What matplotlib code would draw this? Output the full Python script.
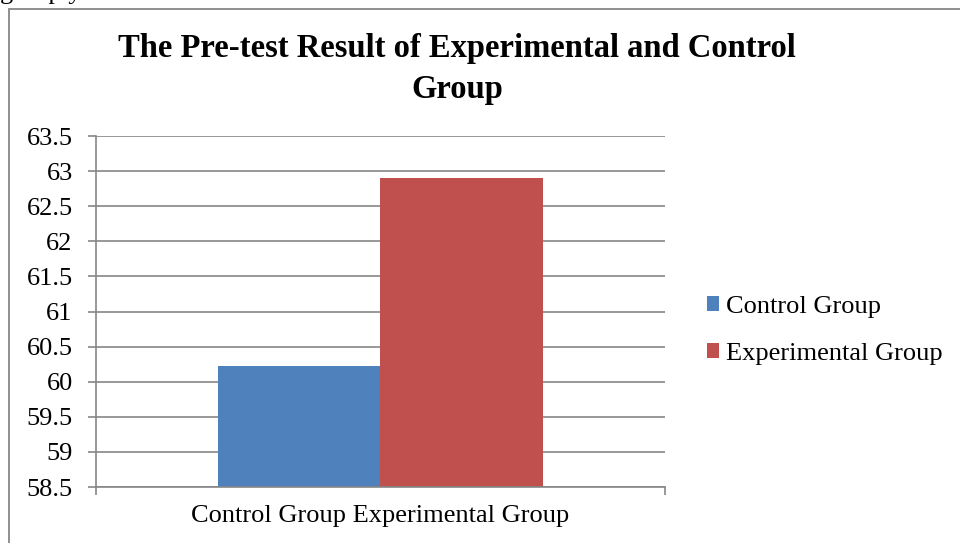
import numpy as np
import matplotlib.pyplot as plt
from matplotlib.patches import Rectangle

plt.rcParams['font.family'] = ['Liberation Serif', 'DejaVu Serif']

categories = ['Control Group Experimental Group']
series = ['Control Group', 'Experimental Group']
values = [60.23, 62.9]
colors = ['#4F81BD', '#C0504D']
y_ticks = np.arange(58.5, 63.51, 0.5)

W, H = 960, 543
fig = plt.figure(figsize=(W / 100, H / 100), dpi=100)
ax = fig.add_axes([96 / W, 1 - 487 / H, (665 - 96) / W, (487 - 136) / H])

grid_col = '#868686'
bar_w = 0.285
x = np.arange(len(categories))
for i, (name, v) in enumerate(zip(series, values)):
    off = (i - (len(series) - 1) / 2) * bar_w
    ax.bar(x + off, v - y_ticks[0], bar_w, bottom=y_ticks[0], color=colors[i], label=name, zorder=3)

ax.set_xlim(-0.5, len(categories) - 0.5)
ax.set_ylim(y_ticks[0], y_ticks[-1])
ax.set_yticks(y_ticks)
ax.set_yticklabels([f'{t:g}' for t in y_ticks])
ax.yaxis.grid(True, color=grid_col, linewidth=1.2, zorder=0)

ax.set_xticks(x)
ax.set_xticklabels(categories)
ax.set_xticks(np.arange(len(categories) + 1) - 0.5, minor=True)
ax.tick_params(axis='x', which='major', length=0, pad=13, labelsize=19)
ax.tick_params(axis='x', which='minor', length=5.8, width=1.2, color=grid_col)
ax.tick_params(axis='y', length=5.8, width=1.2, color=grid_col, pad=11, labelsize=19)

for s in ['top', 'right']:
    ax.spines[s].set_visible(False)
for s in ['left', 'bottom']:
    ax.spines[s].set_color(grid_col)
    ax.spines[s].set_linewidth(1.2)
    ax.spines[s].set_zorder(4)

fig.text(457 / W, 1 - 69 / H, 'The Pre-test Result of Experimental and Control\nGroup',
         ha='center', va='center', fontsize=23.5, fontweight='bold', linespacing=1.4)

ax.legend(loc='center left', bbox_to_anchor=(707 / W, 1 - 330.5 / H), bbox_transform=fig.transFigure,
          frameon=False, fontsize=19, handlelength=0.46, handleheight=0.46, handletextpad=0.25,
          labelspacing=0.95, borderpad=0, borderaxespad=0)

# chart frame, cut off at right and bottom
fig.add_artist(Rectangle((9 / W, -0.2), 1.2, 1.2 - 9 / H, transform=fig.transFigure,
                         fill=False, edgecolor=grid_col, linewidth=1.3))

# bit of the text line above the chart
fig.text(0, 1 + 1 / H, 'group y', fontsize=19, va='baseline', ha='left')

fig.savefig('out.png', dpi=100)
